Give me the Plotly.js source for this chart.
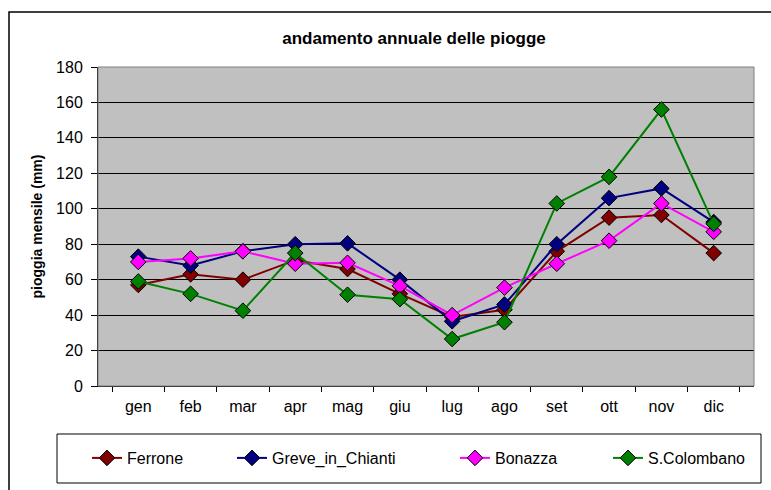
<!DOCTYPE html>
<html>
<head>
<meta charset="utf-8">
<script src="https://cdn.plot.ly/plotly-3.0.1.min.js"></script>
<style>
html,body{margin:0;padding:0;background:#fff;}
#chart{width:771px;height:490px;}
</style>
</head>
<body>
<div id="chart"></div>
<script>
const months = ["gen","feb","mar","apr","mag","giu","lug","ago","set","ott","nov","dic"];
const seriesNames = ["Ferrone","Greve_in_Chianti","Bonazza","S.Colombano"];
const ferrone = [57, 63, 60, 71, 66, 52, 39, 43, 76, 95, 96.5, 75];
const greve = [73, 68, 76, 80, 80.5, 60, 36.5, 46, 80, 106, 111.5, 92.5];
const bonazza = [70, 72, 76, 69, 69.5, 56.5, 40, 55.5, 69, 82, 103, 87];
const colombano = [59, 52, 42.5, 75, 51.5, 49, 26.5, 36, 103, 118, 156, 91.5];
const yTicks = [0,20,40,60,80,100,120,140,160,180];

const colors = ["#800000","#000080","#FF00FF","#008000"];
const values = [ferrone, greve, bonazza, colombano];
const legendNames = ["legend","legend2","legend3","legend4"];

const traces = values.map((v,i)=>({
  x: months, y: v, name: seriesNames[i], type:"scatter", mode:"lines+markers",
  legend: legendNames[i],
  line:{color:colors[i], width:2},
  marker:{symbol:"diamond", size:12, color:colors[i], line:{color:"#000", width:1}}
}));

const L = 98, R = 754, T = 67, B = 386;
const px = v => (v - L)/(R - L);
const py = v => (B - v)/(B - T);
const legText = [129, 274, 497, 650];
const legCommon = {bgcolor:"rgba(0,0,0,0)", borderwidth:0, font:{family:"Liberation Sans, Arial", size:16, color:"#000"}, yanchor:"middle", xanchor:"left", y: py(458), orientation:"h", itemwidth:30};
const layout = {
  width:771, height:490,
  margin:{l:L, r:771-R, t:T, b:490-B},
  paper_bgcolor:"#fff", plot_bgcolor:"#C0C0C0",
  font:{family:"Liberation Sans, Arial", color:"#000"},
  title:{text:"<b>andamento annuale delle piogge</b>", font:{size:17, color:"#000"}, x:px(414), xref:"paper", xanchor:"center", y:1-38/490, yref:"container", yanchor:"middle"},
  xaxis:{type:"category", tickson:"boundaries", ticks:"outside", ticklen:5, tickcolor:"#000", showline:true, linecolor:"#000", linewidth:1, showgrid:false, tickfont:{size:16}, ticklabelstandoff:6, mirror:false, fixedrange:true},
  yaxis:{range:[0,180], tickvals:yTicks, ticks:"outside", ticklen:6, tickcolor:"#000", showline:true, linecolor:"#000", linewidth:1, gridcolor:"#000", gridwidth:1, zeroline:false, tickfont:{size:16}, ticklabelstandoff:5, title:{text:"<b>pioggia mensile (mm)</b>", font:{size:14}, standoff:10}, fixedrange:true},
  legend: Object.assign({}, legCommon, {x: px(legText[0]-42)}),
  legend2: Object.assign({}, legCommon, {x: px(legText[1]-42)}),
  legend3: Object.assign({}, legCommon, {x: px(legText[2]-42)}),
  legend4: Object.assign({}, legCommon, {x: px(legText[3]-42)}),
  shapes:[
    {type:"rect", xref:"paper", yref:"paper", x0:0, x1:1, y0:0, y1:1, line:{color:"#808080", width:1}, layer:"above"},
    {type:"rect", xref:"paper", yref:"paper", x0:px(9), x1:px(780), y0:py(12), y1:py(500), line:{color:"#000", width:1.5}},
    {type:"rect", xref:"paper", yref:"paper", x0:px(57), x1:px(761), y0:py(434), y1:py(483), line:{color:"#000", width:1}}
  ],
  showlegend:true
};
Plotly.newPlot("chart", traces, layout, {displayModeBar:false, staticPlot:true});
</script>
</body>
</html>
